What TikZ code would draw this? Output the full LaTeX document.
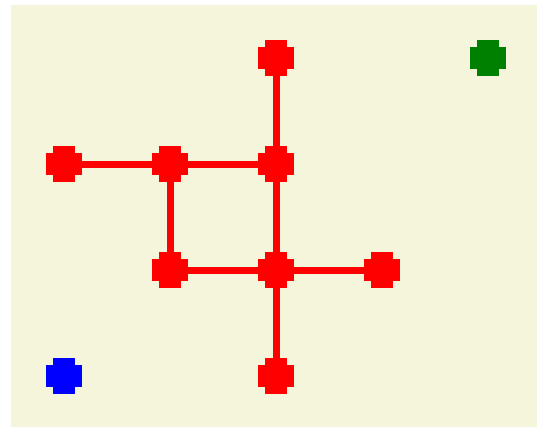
\documentclass[tikz,border=0pt]{standalone}
\definecolor{bg}{HTML}{F5F5DC}
\definecolor{dred}{HTML}{FF0000}
\definecolor{dgreen}{HTML}{008000}
\definecolor{dblue}{HTML}{0000FF}
\tikzset{
  dotnode/.style={rectangle, minimum size=36pt, inner sep=0pt, outer sep=0pt,
    path picture={
      \fill[#1] ([xshift=-18pt,yshift=-11pt]path picture bounding box.center) rectangle ([xshift=18pt,yshift=11pt]path picture bounding box.center);
      \fill[#1] ([xshift=-11pt,yshift=-18pt]path picture bounding box.center) rectangle ([xshift=11pt,yshift=18pt]path picture bounding box.center);
    }},
  link/.style={draw=dred, line width=7pt}
}
\begin{document}
\begin{tikzpicture}[x=1pt,y=-1pt]
\useasboundingbox (0,0) rectangle (537,427);
\fill[bg] (11,5) rectangle (537,427);
\node[dotnode=dred] (a) at (276,58) {};
\node[dotnode=dred] (b) at (64,164.5) {};
\node[dotnode=dred] (c) at (170,164.5) {};
\node[dotnode=dred] (d) at (276,164.5) {};
\node[dotnode=dred] (e) at (170,270) {};
\node[dotnode=dred] (f) at (276,270) {};
\node[dotnode=dred] (g) at (382,270) {};
\node[dotnode=dred] (h) at (276,376) {};
\node[dotnode=dgreen] (gr) at (488,58) {};
\node[dotnode=dblue] (bl) at (64,376) {};
\draw[link] (b.center) -- (c.center) -- (d.center);
\draw[link] (a.center) -- (d.center) -- (f.center) -- (h.center);
\draw[link] (c.center) -- (e.center) -- (f.center) -- (g.center);
\end{tikzpicture}
\end{document}
